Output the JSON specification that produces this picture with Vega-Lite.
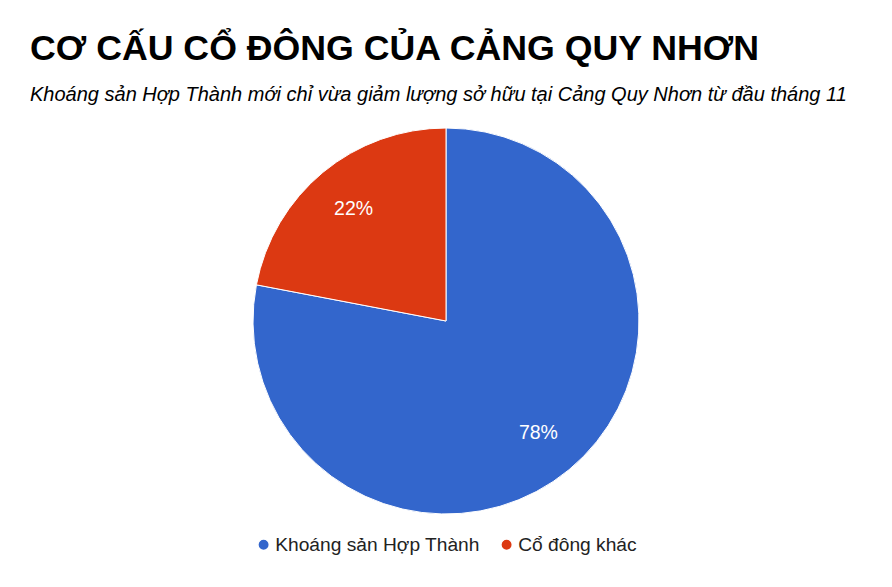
{
  "$schema": "https://vega.github.io/schema/vega-lite/v6.json",
  "width": 892,
  "height": 402,
  "autosize": {"type": "none"},
  "padding": {"left": 0, "right": 0, "top": 120, "bottom": 65},
  "background": "white",
  "config": {"view": {"stroke": null}, "font": "Liberation Sans"},
  "title": {
    "text": "CƠ CẤU CỔ ĐÔNG CỦA CẢNG QUY NHƠN",
    "subtitle": "Khoáng sản Hợp Thành mới chỉ vừa giảm lượng sở hữu tại Cảng Quy Nhơn từ đầu tháng 11",
    "anchor": "start",
    "frame": "group",
    "dx": 30,
    "offset": 14,
    "font": "Liberation Sans",
    "fontSize": 35.7,
    "fontWeight": "bold",
    "color": "#000000",
    "subtitleFont": "Liberation Sans",
    "subtitleFontSize": 20,
    "subtitleFontStyle": "italic",
    "subtitleColor": "#000000",
    "subtitlePadding": 17
  },
  "data": {
    "values": [
      {"group": "Khoáng sản Hợp Thành", "share": 78, "label": "78%", "ord": 1},
      {"group": "Cổ đông khác", "share": 22, "label": "22%", "ord": 2}
    ]
  },
  "encoding": {
    "theta": {"field": "share", "type": "quantitative", "stack": true},
    "order": {"field": "ord", "type": "quantitative"},
    "color": {
      "field": "group",
      "type": "nominal",
      "scale": {"domain": ["Khoáng sản Hợp Thành", "Cổ đông khác"], "range": ["#3366cc", "#dc3912"]},
      "legend": {
        "title": null,
        "orient": "none",
        "legendX": 254,
        "legendY": 415,
        "direction": "horizontal",
        "symbolType": "circle",
        "symbolSize": 130,
        "labelFontSize": 19.2,
        "labelFont": "Liberation Sans",
        "labelColor": "#222222",
        "labelLimit": 0,
        "columnPadding": 17,
        "labelOffset": 2
      }
    }
  },
  "layer": [
    {"mark": {"type": "arc", "radius": 193, "stroke": "white", "strokeWidth": 1}},
    {
      "mark": {"type": "text", "radius": 145, "fontSize": 19.5, "color": "white", "font": "Liberation Sans"},
      "encoding": {"text": {"field": "label", "type": "nominal"}, "color": {"value": "white"}}
    }
  ]
}
